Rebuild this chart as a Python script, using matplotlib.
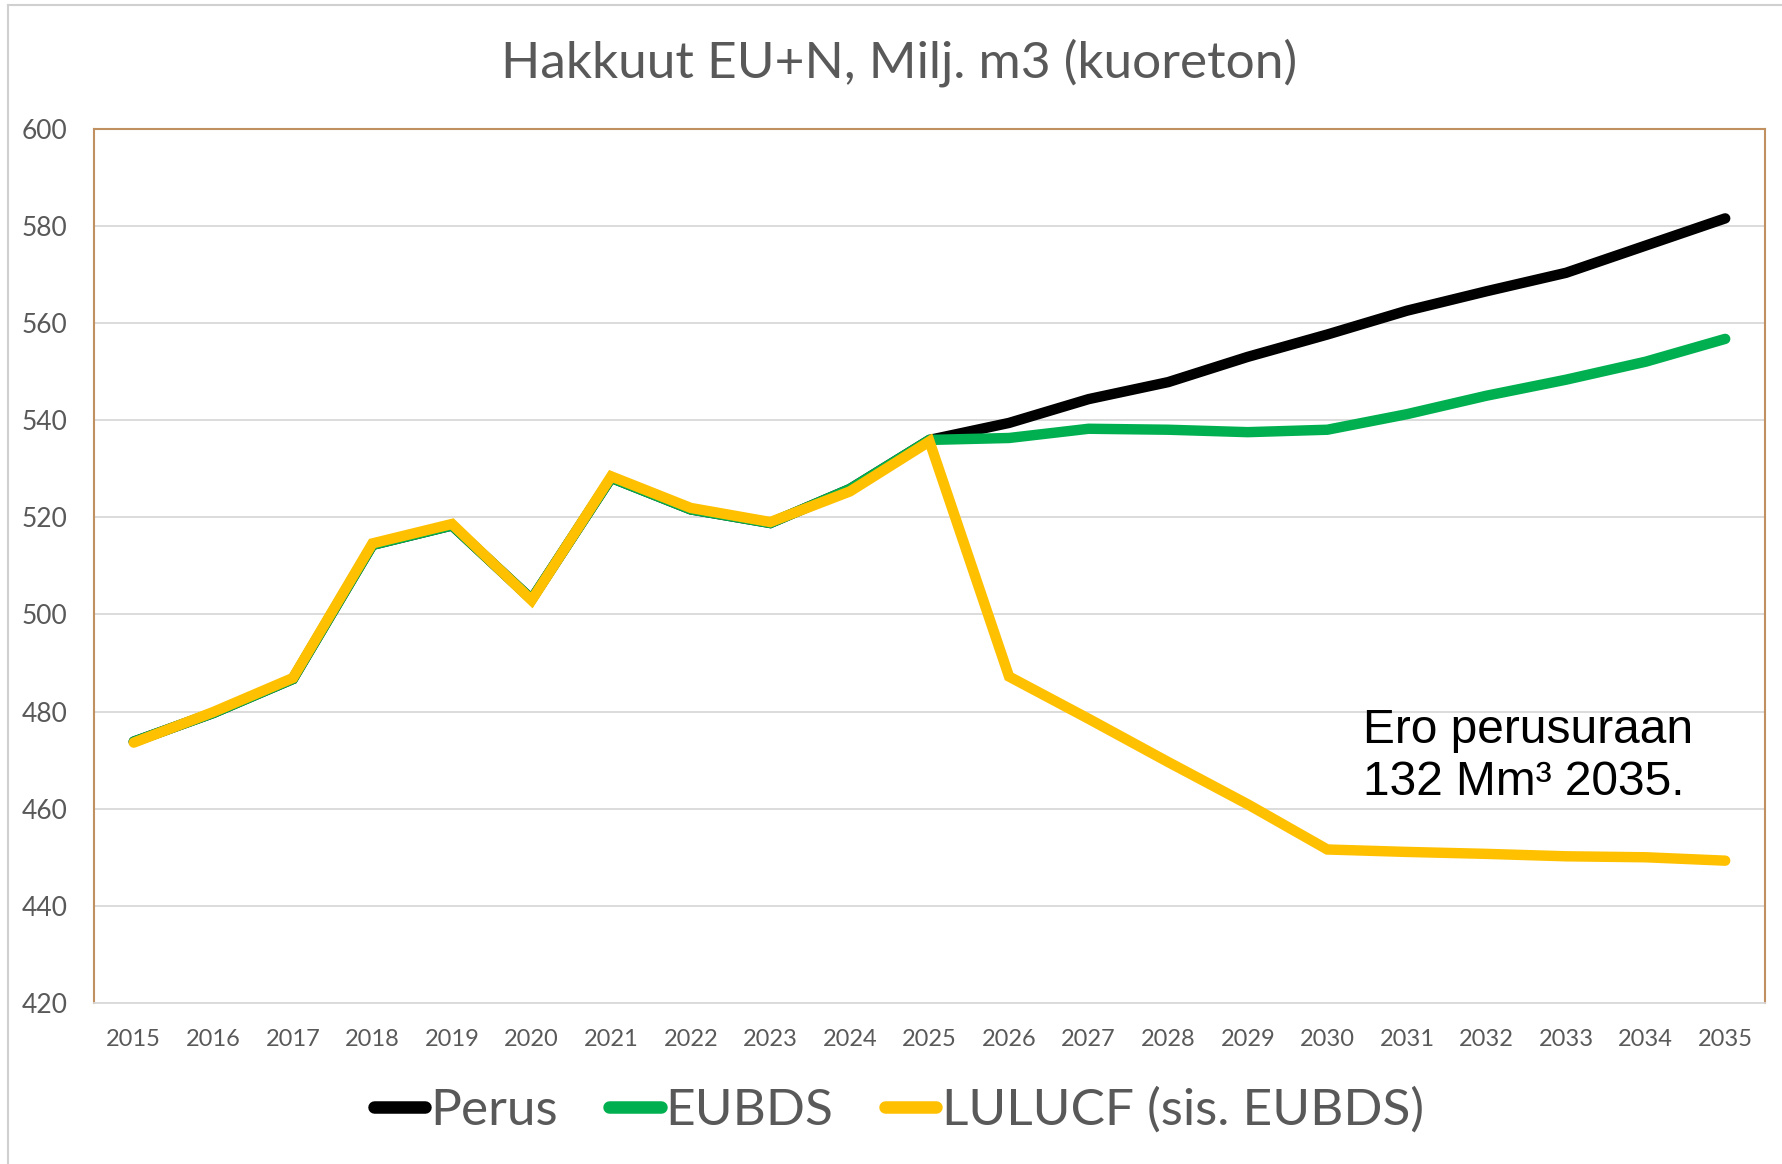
import matplotlib.pyplot as plt
from matplotlib.lines import Line2D

years = [str(y) for y in range(2015, 2036)]

perus = [473.8, 479.7, 486.7, 514.3, 518.3, 503.1, 528.1, 521.6, 518.8, 525.8,
         535.9, 539.4, 544.3, 547.8, 553.0, 557.6, 562.5, 566.5, 570.3, 575.9, 581.5]
eubds = [473.8, 479.7, 486.7, 514.3, 518.3, 503.1, 528.1, 521.6, 518.8, 525.8,
         535.9, 536.3, 538.2, 538.0, 537.5, 538.0, 541.2, 545.0, 548.3, 552.0, 556.7]
lulucf = [473.6, 479.9, 486.9, 514.6, 518.6, 502.9, 528.4, 521.9, 519.0, 525.3,
          535.6, 487.2, 478.5, 469.6, 460.9, 451.6, 451.1, 450.7, 450.2, 450.0, 449.3]

series_names = ['Perus', 'EUBDS', 'LULUCF (sis. EUBDS)']
series_colors = ['#000000', '#00B050', '#FFC000']

font = ['Lato', 'DejaVu Sans']
plt.rcParams['font.family'] = font

fig = plt.figure(figsize=(17.83, 11.64), dpi=100)
ax = fig.add_axes([0.0527, 0.1383, 0.9372, 0.7513])

x = list(range(len(years)))
for vals, name, col in zip([perus, eubds, lulucf], series_names, series_colors):
    ax.plot(x, vals, color=col, lw=7.5, label=name, solid_capstyle='round',
            solid_joinstyle='miter')

ax.set_xlim(-0.5, len(years) - 0.5)
ax.set_ylim(420, 600)
ax.set_yticks(range(420, 601, 20))
ax.set_xticks(x)
ax.set_xticklabels(years)
ax.tick_params(axis='both', length=0, colors='#595959')
ax.tick_params(axis='y', labelsize=19, pad=19)
ax.tick_params(axis='x', labelsize=17, pad=19)
ax.grid(axis='y', color='#D9D9D9', lw=1.3)
ax.set_axisbelow(True)

for side in ['left', 'top', 'right']:
    ax.spines[side].set_color('#C09060')
    ax.spines[side].set_linewidth(1.5)
ax.spines['bottom'].set_color('#D9D9D9')
ax.spines['bottom'].set_linewidth(1.3)

fig.text(0.504, 0.946, 'Hakkuut EU+N, Milj. m3 (kuoreton)', ha='center', va='center',
         fontsize=37, color='#595959')

ax.text(15.45, 480.8, 'Ero perusuraan\n132 Mm³ 2035.', ha='left', va='top',
        fontsize=34.5, color='black', family='Liberation Sans', linespacing=1.2)

handles = [Line2D([0], [0], color=c, lw=9, solid_capstyle='round') for c in series_colors]
leg = fig.legend(handles, series_names, loc='center', bbox_to_anchor=(0.504, 0.046),
                 ncol=3, frameon=False, fontsize=37, handlelength=1.0,
                 handletextpad=0.1, columnspacing=1.0)
for t in leg.get_texts():
    t.set_color('#595959')

# thin outer frame like the original screenshot
fig.add_artist(Line2D([0.0045, 0.0045], [0, 0.996], color='#D0D0D0', lw=1.5,
                      transform=fig.transFigure))
fig.add_artist(Line2D([0.0045, 1], [0.996, 0.996], color='#D0D0D0', lw=1.5,
                      transform=fig.transFigure))

fig.savefig('out.png', dpi=100)
